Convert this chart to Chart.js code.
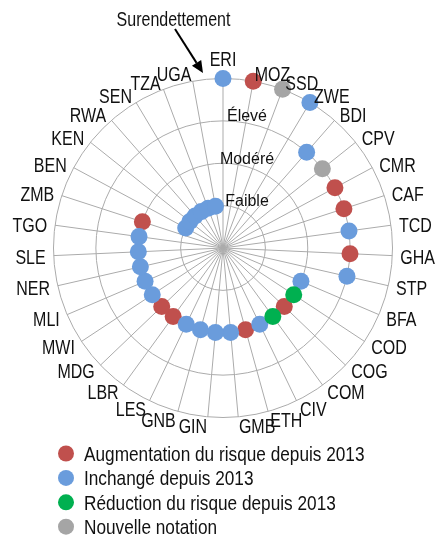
<!DOCTYPE html>
<html><head><meta charset="utf-8">
<script src="https://cdn.jsdelivr.net/npm/chart.js@4/dist/chart.umd.min.js"></script>
<style>html,body{margin:0;padding:0;background:#fff;} #wrap{width:435px;height:537px;position:relative;}</style>
</head><body><div id="wrap"><canvas id="c"></canvas></div>
<script>
const countries = ['ERI','MOZ','SSD','ZWE','BDI','CPV','CMR','CAF','TCD','GHA','STP','BFA','COD','COG','COM','CIV','ETH','GMB','GIN','GNB','LES','LBR','MDG','MWI','MLI','NER','SLE','TGO','ZMB','BEN','KEN','RWA','SEN','TZA','UGA'];
const riskLevel = [4,4,4,4,3,3,3,3,3,3,3,2,2,2,2,2,2,2,2,2,2,2,2,2,2,2,2,2,2,1,1,1,1,1,1];
const riskStatus = ['U','A','N','U','U','N','A','A','U','A','U','U','R','A','R','U','A','U','U','U','U','A','A','U','U','U','U','U','A','U','U','U','U','U','U'];
const statusKeys = ['A','U','R','N'];
const statusNames = ['Augmentation du risque depuis 2013','Inchangé depuis 2013','Réduction du risque depuis 2013','Nouvelle notation'];
const statusColors = ['#C0504D','#6A9CDC','#00B050','#A5A5A5'];
const riskTickLabels = ['', 'Faible', 'Modéré', 'Élevé', 'Surendettement'];

const REG = "'Liberation Sans',Arial,sans-serif";
const SQUEEZE = 0.82; // emulate a narrow face

function narrowText(ctx, text, x, y, size, align) {
  ctx.save();
  ctx.font = size + 'px ' + REG;
  ctx.translate(x, y);
  ctx.scale(SQUEEZE, 1);
  ctx.textAlign = align || 'left';
  ctx.textBaseline = 'alphabetic';
  ctx.fillText(text, 0, 0);
  ctx.restore();
}

const datasets = statusKeys.map((k, si) => ({
  label: statusNames[si],
  data: riskLevel.map((v, i) => riskStatus[i] === k ? v : null),
  showLine: false,
  fill: false,
  borderWidth: 0,
  backgroundColor: 'rgba(0,0,0,0)',
  borderColor: 'rgba(0,0,0,0)',
  pointBackgroundColor: statusColors[si],
  pointBorderColor: statusColors[si],
  pointBorderWidth: 0,
  pointRadius: 8.5,
  pointHoverRadius: 8.5,
  order: statusKeys.length - si
}));

const LABEL_SIZE = 19.5;
const annot = {
  id: 'annot',
  afterDatasetsDraw(chart) {
    const ctx = chart.ctx;
    const r = chart.scales.r;
    ctx.save();
    ctx.fillStyle = '#111';
    // point labels, anchored on the scale's own spoke positions
    countries.forEach((lab, i) => {
      const a = r.getPointPosition(i, r.drawingArea + 8);
      const s = Math.sin(a.angle + Math.PI / 2);
      if (i === 0) {
        narrowText(ctx, lab, a.x, a.y - 4, LABEL_SIZE, 'center');
      } else {
        narrowText(ctx, lab, a.x, a.y + 7.8, LABEL_SIZE, s > 0 ? 'left' : 'right');
      }
    });
    // tick labels
    ctx.font = '16px ' + REG;
    ctx.textAlign = 'center';
    ctx.textBaseline = 'alphabetic';
    for (let v = 1; v <= 3; v++) {
      const d = r.getDistanceFromCenterForValue(v);
      ctx.fillText(riskTickLabels[v], r.xCenter + 24, r.yCenter - d + 0.5);
    }
    // Surendettement annotation
    narrowText(ctx, riskTickLabels[4], 173.5, 26, LABEL_SIZE, 'center');
    const x1 = 175, y1 = 29, x2 = 203, y2 = 73;
    const ang = Math.atan2(y2 - y1, x2 - x1);
    const hl = 12, hw = 5.5;
    const bx = x2 - hl * Math.cos(ang), by = y2 - hl * Math.sin(ang);
    ctx.strokeStyle = '#000';
    ctx.lineWidth = 2;
    ctx.beginPath(); ctx.moveTo(x1, y1); ctx.lineTo(bx, by); ctx.stroke();
    ctx.fillStyle = '#000';
    ctx.beginPath();
    ctx.moveTo(x2, y2);
    ctx.lineTo(bx + hw * Math.sin(ang), by - hw * Math.cos(ang));
    ctx.lineTo(bx - hw * Math.sin(ang), by + hw * Math.cos(ang));
    ctx.closePath(); ctx.fill();
    // legend
    statusNames.forEach((name, i) => {
      const y = 453.5 + i * 24.4;
      ctx.fillStyle = statusColors[i];
      ctx.beginPath(); ctx.arc(66, y, 8, 0, Math.PI * 2); ctx.fill();
      ctx.fillStyle = '#111';
      narrowText(ctx, name, 84, y + 7.5, 21, 'left');
    });
    ctx.restore();
  }
};

new Chart(document.getElementById('c'), {
  type: 'radar',
  data: { labels: countries, datasets },
  options: {
    responsive: true,
    maintainAspectRatio: false,
    animation: false,
    layout: { padding: { top: 38, bottom: 78, left: 14, right: 0 } },
    plugins: { legend: { display: false }, tooltip: { enabled: false } },
    scales: {
      r: {
        min: 0, max: 4,
        ticks: { display: false, stepSize: 1 },
        grid: { circular: true, color: '#ABABAB', lineWidth: 1 },
        angleLines: { color: '#ABABAB', lineWidth: 1 },
        pointLabels: { font: { family: REG, size: 16, lineHeight: 1.4625 }, color: 'rgba(0,0,0,0)', padding: 7 }
      }
    }
  },
  plugins: [annot]
});
</script></body></html>
